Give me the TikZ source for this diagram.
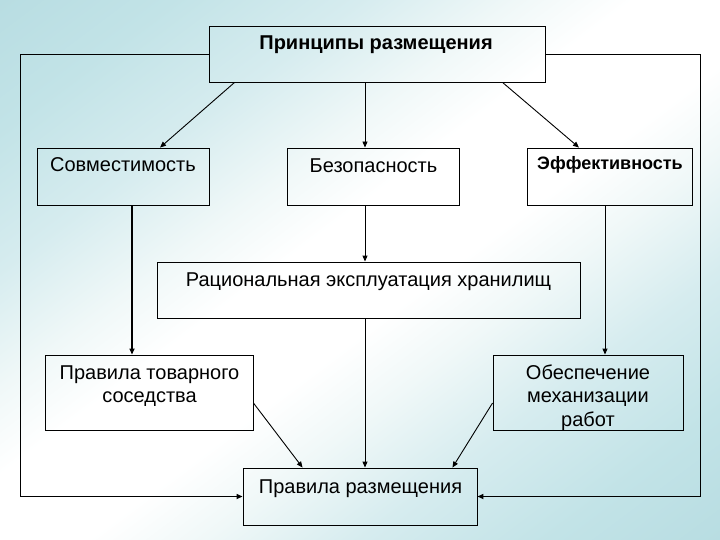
\documentclass[tikz,border=0pt]{standalone}
\usepackage{fontspec}
\setmainfont{Liberation Sans}
\usetikzlibrary{arrows.meta,calc}
\definecolor{bgT}{RGB}{184,221,226}
\definecolor{bgA}{RGB}{194,227,231}
\definecolor{bgB}{RGB}{214,236,239}
\definecolor{bgC}{RGB}{240,248,248}
\pgfdeclareverticalshading{bgshade}{100bp}{color(0bp)=(bgT); color(25bp)=(bgT); color(31bp)=(bgA); color(37.5bp)=(bgB); color(43bp)=(bgC); color(47bp)=(white); color(53bp)=(white); color(57bp)=(bgC); color(62.5bp)=(bgB); color(69bp)=(bgA); color(75bp)=(bgT); color(100bp)=(bgT)}
\tikzset{
  box/.style={draw=black, line width=0.9pt, rectangle, inner sep=0pt},
  txt/.style={inner sep=0pt, font=\fontsize{20}{23.5}\selectfont},
  btxt/.style={inner sep=0pt, font=\fontsize{20}{23.5}\selectfont\bfseries},
  conn/.style={draw=black, line width=0.9pt},
  arr/.style={conn, -{Triangle[length=6pt,width=5pt]}},
  thickconn/.style={line width=1.8pt}
}
\begin{document}
\begin{tikzpicture}[x=1pt, y=-1pt]
\useasboundingbox (0,0) rectangle (720,540);
% background
\begin{scope}
  \clip (0,0) rectangle (720,540);
  \begin{scope}[transform canvas={cm={7.2,5.4,0,-5.4,(0pt,0pt)}}]
    \shade[shading=bgshade] (0pt,0pt) rectangle (100pt,200pt);
  \end{scope}
\end{scope}
% boxes
\node[box, minimum width=336pt, minimum height=56pt] (top) at (377,54) {};
\node[box, minimum width=172pt, minimum height=57pt] (sov) at (123,176.5) {};
\node[box, minimum width=172pt, minimum height=57pt] (bez) at (373,176.5) {};
\node[box, minimum width=165pt, minimum height=57pt] (eff) at (609.5,176.5) {};
\node[box, minimum width=423pt, minimum height=56pt] (rac) at (368.5,290) {};
\node[box, minimum width=208pt, minimum height=75pt] (pts) at (149,392.5) {};
\node[box, minimum width=190pt, minimum height=75pt] (obe) at (588,392.5) {};
\node[box, minimum width=234pt, minimum height=57pt] (pr) at (360,496.5) {};
% texts
\node[btxt, anchor=base] (topT) at (376,50) {Принципы размещения};
\node[txt, anchor=base] (sovT) at (123,172) {Совместимость};
\node[txt, anchor=base] (bezT) at (373.5,172.5) {Безопасность};
\node[btxt, font=\fontsize{18}{21}\selectfont\bfseries, anchor=base] (effT) at (610,170) {Эффективность};
\node[txt, anchor=base] (racT) at (368.5,286.5) {Рациональная эксплуатация хранилищ};
\node[txt, anchor=north, align=center] (ptsT) at (149.5,365.5) {Правила товарного\\соседства};
\node[txt, anchor=north, align=center] (obeT) at (588,364.5) {Обеспечение\\механизации\\работ};
\node[txt, anchor=base] (prT) at (360.5,493) {Правила размещения};
% guide coordinates
\coordinate (mx) at (365,0);
\coordinate (lx) at (132,0);
\coordinate (rx) at (605,0);
\coordinate (lc) at (20,496.5);
\coordinate (rc) at (700,496.5);
% connectors
\draw[arr] ($(top.south west)+(26,0)$) -- ($(sov.north)+(37,0)$);
\draw[arr] (top.south -| mx) -- (bez.north -| mx);
\draw[arr] ($(top.south west)+(294,0)$) -- ($(eff.north)+(-30.5,0)$);
\draw[arr] (bez.south -| mx) -- (rac.north -| mx);
\draw[arr] (rac.south -| mx) -- (pr.north -| mx);
\draw[arr, thickconn] (sov.south -| lx) -- (pts.north -| lx);
\draw[arr] (eff.south -| rx) -- (obe.north -| rx);
\draw[arr] ($(pts.east)+(0,10.5)$) -- ($(pr.north west)+(60,0)$);
\draw[arr] ($(obe.west)+(0,10.5)$) -- ($(pr.north east)+(-25,0)$);
\draw[conn] (top.west) -| (lc);
\draw[arr, thickconn] (lc) -- (pr.west);
\draw[conn] (top.east) -| (rc);
\draw[arr, thickconn] (rc) -- (pr.east);
\end{tikzpicture}
\end{document}
